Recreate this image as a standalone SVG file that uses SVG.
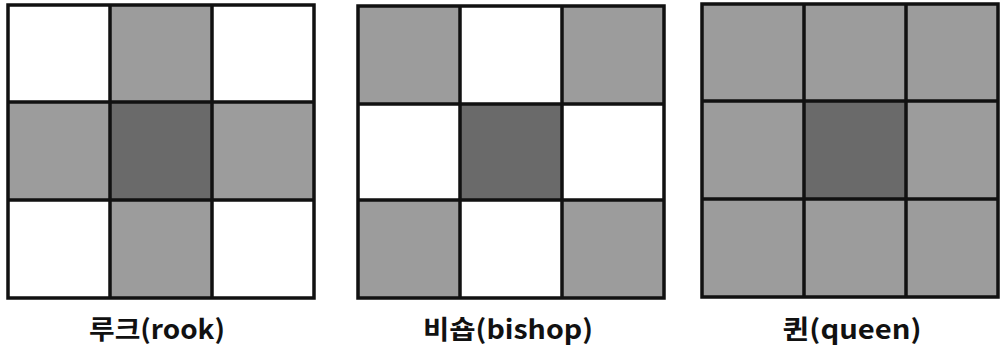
<svg xmlns="http://www.w3.org/2000/svg" width="1000" height="356" viewBox="0 0 1000 356">
<style>
.w{fill:#ffffff}
.g{fill:#9c9c9c}
.d{fill:#6a6a6a}
.ln{stroke:#111;stroke-width:3.5;fill:none}
.lbl{font-family:"Noto Sans CJK KR","Noto Sans",sans-serif;font-weight:700;font-size:26px;fill:#111;text-anchor:middle}
</style>
<rect width="1000" height="356" fill="#fff"/>
<g id="rook">
<rect class="w" x="8" y="5" width="102" height="97"/>
<rect class="g" x="110" y="5" width="102" height="97"/>
<rect class="w" x="212" y="5" width="102" height="97"/>
<rect class="g" x="8" y="102" width="102" height="98"/>
<rect class="d" x="110" y="102" width="102" height="98"/>
<rect class="g" x="212" y="102" width="102" height="98"/>
<rect class="w" x="8" y="200" width="102" height="98"/>
<rect class="g" x="110" y="200" width="102" height="98"/>
<rect class="w" x="212" y="200" width="102" height="98"/>
<path class="ln" d="M8 5H314V298H8Z M110 5V298 M212 5V298 M8 102H314 M8 200H314"/>
<text class="lbl" x="157" y="339" textLength="136" lengthAdjust="spacingAndGlyphs">루크(rook)</text>
</g>
<g id="bishop">
<rect class="g" x="358" y="6" width="102" height="98"/>
<rect class="w" x="460" y="6" width="102" height="98"/>
<rect class="g" x="562" y="6" width="102" height="98"/>
<rect class="w" x="358" y="104" width="102" height="96"/>
<rect class="d" x="460" y="104" width="102" height="96"/>
<rect class="w" x="562" y="104" width="102" height="96"/>
<rect class="g" x="358" y="200" width="102" height="98"/>
<rect class="w" x="460" y="200" width="102" height="98"/>
<rect class="g" x="562" y="200" width="102" height="98"/>
<path class="ln" d="M358 6H664V298H358Z M460 6V298 M562 6V298 M358 104H664 M358 200H664"/>
<text class="lbl" x="508" y="339" textLength="170" lengthAdjust="spacingAndGlyphs">비숍(bishop)</text>
</g>
<g id="queen">
<rect class="g" x="702" y="4" width="296" height="293"/>
<rect class="d" x="804" y="101" width="102" height="98"/>
<path class="ln" d="M702 4H998V297H702Z M804 4V297 M906 4V297 M702 101H998 M702 199H998"/>
<text class="lbl" x="852" y="339" textLength="139" lengthAdjust="spacingAndGlyphs">퀸(queen)</text>
</g>
<g id="connectors"/>
</svg>
